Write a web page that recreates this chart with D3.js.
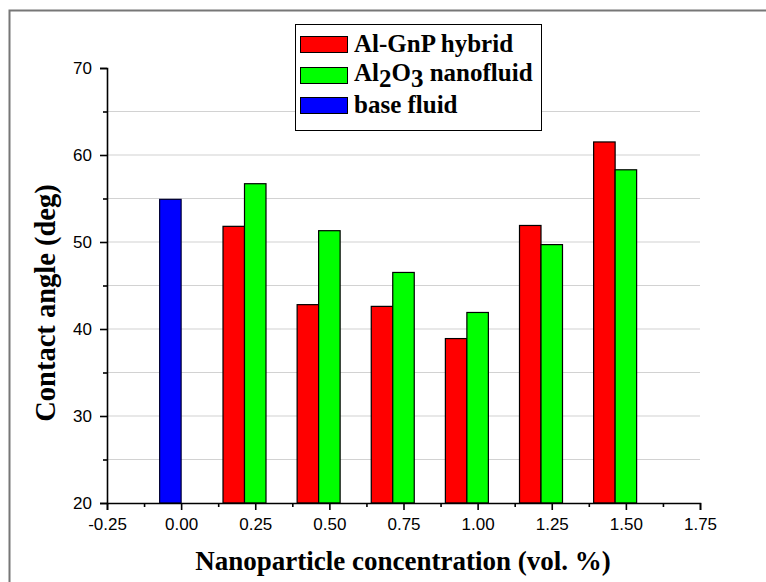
<!DOCTYPE html>
<html lang="en">
<head>
<meta charset="utf-8">
<title>Contact angle</title>
<style>
  html, body { margin: 0; padding: 0; background: #fff; }
  svg { display: block; }
  .title { font-family: "Liberation Serif", "Times New Roman", serif; font-weight: bold; font-size: 27px; }
  .legend text { font-family: "Liberation Serif", "Times New Roman", serif; font-weight: bold; font-size: 25px; }
</style>
<script src="https://d3js.org/d3.v7.min.js"></script>
</head>
<body>
<svg id="chart" width="766" height="582"></svg>
<script>
// data
const concentrations = [0.25, 0.50, 0.75, 1.00, 1.25, 1.50];
const hybrid = [51.8, 42.8, 42.6, 38.9, 51.9, 61.5];     // Al-GnP hybrid
const alumina = [56.7, 51.3, 46.5, 41.9, 49.7, 58.3];    // Al2O3 nanofluid
const baseX = [0.00];
const baseFluid = [54.9];
const xTicks = [-0.25, 0, 0.25, 0.5, 0.75, 1.0, 1.25, 1.5, 1.75];
const yTicks = [20, 30, 40, 50, 60, 70];

const svg = d3.select('#chart');

// outer frame
svg.append('rect')
  .attr('x', 9.5).attr('y', 10.5)
  .attr('width', 800).attr('height', 600)
  .attr('fill', 'none')
  .attr('stroke', '#777')
  .attr('stroke-width', 2);

const x = d3.scaleLinear().domain([-0.25, 1.75]).range([107, 700]);
const y = d3.scaleLinear().domain([20, 70]).range([503, 68]);
const barW = x(0.0725) - x(0);

// gridlines every 5
const grid = d3.range(25, 70, 5);
svg.append('g')
  .selectAll('line')
  .data(grid)
  .enter().append('line')
  .attr('x1', x(-0.25)).attr('x2', x(1.75))
  .attr('y1', d => y(d)).attr('y2', d => y(d))
  .attr('stroke', '#d2d2d2')
  .attr('stroke-width', 1.2);

// bars
function bars(xs, vals, offset, fill, stroke) {
  svg.append('g')
    .selectAll('rect')
    .data(vals)
    .enter().append('rect')
    .attr('x', (d, i) => x(xs[i]) + offset)
    .attr('y', d => y(d))
    .attr('width', barW)
    .attr('height', d => y(20) - y(d))
    .attr('fill', fill)
    .attr('stroke', stroke)
    .attr('stroke-width', 1.2);
}
bars(concentrations, hybrid, -barW * 1.5, '#ff0000', '#000');
bars(concentrations, alumina, -barW * 0.5, '#00ff00', '#000');
bars(baseX, baseFluid, -barW, '#0000ff', '#000033');

// axes
const fmt = d => d3.format('.2f')(d).replace('−', '-');
const xAxis = d3.axisBottom(x).tickValues(xTicks).tickSize(7).tickPadding(6).tickFormat(fmt);
const gx = svg.append('g').attr('transform', `translate(0,${y(20)})`).call(xAxis);
gx.selectAll('.tick text').attr('dy', '0.85em');
const xMinor = d3.axisBottom(x).tickValues(xTicks.slice(0, -1).map(d => d + 0.125)).tickSize(4).tickFormat('');
svg.append('g').attr('transform', `translate(0,${y(20)})`).call(xMinor).select('.domain').remove();

const yAxis = d3.axisLeft(y).tickValues(yTicks).tickSize(7).tickPadding(8);
svg.append('g').attr('transform', `translate(${x(-0.25)},0)`).call(yAxis);
const yMinor = d3.axisLeft(y).tickValues(d3.range(25, 70, 10)).tickSize(4).tickFormat('');
svg.append('g').attr('transform', `translate(${x(-0.25)},0)`).call(yMinor).select('.domain').remove();

svg.selectAll('.domain, .tick line').attr('stroke', '#000').attr('stroke-width', 1.6);
svg.selectAll('.tick text')
  .attr('font-family', '"Liberation Sans", Arial, sans-serif')
  .attr('font-size', 17)
  .attr('fill', '#000');

// axis titles
svg.append('text')
  .attr('class', 'title')
  .attr('x', 403).attr('y', 570)
  .attr('text-anchor', 'middle')
  .text('Nanoparticle concentration (vol. %)');

svg.append('text')
  .attr('class', 'title')
  .attr('transform', 'translate(55,303) rotate(-90)')
  .attr('text-anchor', 'middle')
  .style('font-size', '28.5px')
  .text('Contact angle (deg)');

// legend
const legend = svg.append('g').attr('class', 'legend');
legend.append('rect')
  .attr('x', 295.5).attr('y', 24.5)
  .attr('width', 246).attr('height', 106)
  .attr('fill', '#fff').attr('stroke', '#000').attr('stroke-width', 1);

const items = [
  { fill: '#ff0000', top: 36, base: 52 },
  { fill: '#00ff00', top: 67, base: 81 },
  { fill: '#0000ff', top: 97, base: 113 }
];
legend.selectAll('rect.sw')
  .data(items)
  .enter().append('rect')
  .attr('class', 'sw')
  .attr('x', 300.5).attr('y', d => d.top + 0.5)
  .attr('width', 47).attr('height', 16)
  .attr('fill', d => d.fill)
  .attr('stroke', '#000').attr('stroke-width', 1);

legend.append('text').attr('x', 354).attr('y', items[0].base).text('Al-GnP hybrid');
const t2 = legend.append('text').attr('x', 354).attr('y', items[1].base);
t2.append('tspan').text('Al');
t2.append('tspan').attr('dy', 6).text('2');
t2.append('tspan').attr('dy', -6).text('O');
t2.append('tspan').attr('dy', 6).text('3');
t2.append('tspan').attr('dy', -6).text(' nanofluid');
legend.append('text').attr('x', 354).attr('y', items[2].base).text('base fluid');
</script>
</body>
</html>
